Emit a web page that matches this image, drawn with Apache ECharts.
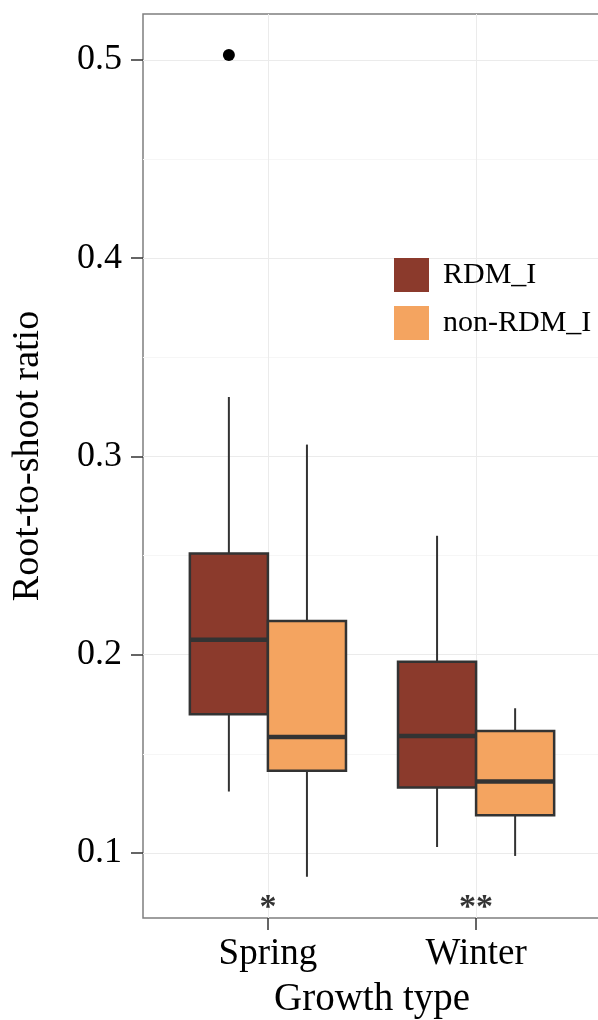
<!DOCTYPE html>
<html>
<head>
<meta charset="utf-8">
<title>Root-to-shoot ratio</title>
<script src="https://cdn.jsdelivr.net/npm/echarts@6/dist/echarts.min.js"></script>
<style>
  html, body { margin: 0; padding: 0; background: #fff; }
  #chart { width: 598px; height: 1020px; }
</style>
</head>
<body>
<div id="chart"></div>
<script>
const categories = ['Spring', 'Winter'];
const groupNames = ['RDM_I', 'non-RDM_I'];
// [lower whisker, Q1, median, Q3, upper whisker], one row per category
const rdmStats = [
  [0.131, 0.170, 0.2075, 0.251, 0.330],
  [0.103, 0.133, 0.159, 0.1965, 0.260]
];
const nonRdmStats = [
  [0.088, 0.1415, 0.1585, 0.217, 0.306],
  [0.0985, 0.119, 0.136, 0.1615, 0.173]
];
const rdmOutliers = [[0, 0.5025]];   // [category index, value]
const sigLabels = ['*', '**'];
const sigY = 0.072;
const yTicks = [0.1, 0.2, 0.3, 0.4, 0.5];
const yMinorTicks = [0.15, 0.25, 0.35, 0.45];
const colors = ['#8B3A2C', '#F4A460'];

const FONT = 'Liberation Serif';
const HALF = 0.1875;   // half of a dodged box, in category units

const chart = echarts.init(document.getElementById('chart'));

function boxItem(offset) {
  return function (params, api) {
    const x = api.value(0) + offset;
    const lo = api.value(1), q1 = api.value(2), med = api.value(3), q3 = api.value(4), hi = api.value(5);
    const tl = api.coord([x - HALF, q3]);
    const br = api.coord([x + HALF, q1]);
    const top = api.coord([x, hi]);
    const bot = api.coord([x, lo]);
    const mL = api.coord([x - HALF, med]);
    const mR = api.coord([x + HALF, med]);
    const whisker = { stroke: '#333', lineWidth: 2 };
    return {
      type: 'group',
      children: [
        { type: 'line', shape: { x1: top[0], y1: top[1], x2: top[0], y2: tl[1] }, style: whisker },
        { type: 'line', shape: { x1: bot[0], y1: br[1], x2: bot[0], y2: bot[1] }, style: whisker },
        { type: 'rect', shape: { x: tl[0], y: tl[1], width: br[0] - tl[0], height: br[1] - tl[1] },
          style: { fill: api.visual('color'), stroke: '#333', lineWidth: 2.5 } },
        { type: 'line', shape: { x1: mL[0], y1: mL[1], x2: mR[0], y2: mR[1] },
          style: { stroke: '#333', lineWidth: 4.5 } }
      ]
    };
  };
}

const option = {
  backgroundColor: '#fff',
  animation: false,
  grid: {
    left: 143, top: 14, width: 458, height: 904,
    outerBoundsMode: 'none', containLabel: false,
    show: true, borderColor: '#7F7F7F', borderWidth: 1.5, backgroundColor: '#fff'
  },
  legend: {
    orient: 'vertical', left: 389, top: 253,
    itemWidth: 35, itemHeight: 34, itemGap: 14,
    selectedMode: false,
    textStyle: { fontFamily: FONT, fontSize: 30, color: '#000', padding: [0, 0, 0, 9] },
    data: groupNames.map((n, i) => ({ name: n, icon: 'rect', itemStyle: { color: colors[i], borderWidth: 0 } }))
  },
  xAxis: {
    type: 'value', min: 0.4, max: 2.6,
    name: 'Growth type', nameLocation: 'middle', nameGap: 62,
    nameTextStyle: { fontFamily: FONT, fontSize: 39, color: '#000' },
    axisLine: { show: false },
    axisTick: { show: true, customValues: [1, 2], length: 12, lineStyle: { color: '#333', width: 1.5 } },
    axisLabel: {
      customValues: [1, 2], margin: 18,
      fontFamily: FONT, fontSize: 37, color: '#000',
      formatter: v => categories[Math.round(v) - 1]
    },
    splitLine: { show: true, lineStyle: { color: '#EBEBEB', width: 1 } }
  },
  yAxis: [
    {
      type: 'value', min: 0.0672, max: 0.5232,
      name: 'Root-to-shoot ratio', nameLocation: 'middle', nameGap: 96,
      nameTextStyle: { fontFamily: FONT, fontSize: 38, color: '#000', padding: [0, 0, 0, 20] },
      axisLine: { show: false },
      axisTick: { show: true, customValues: yTicks, length: 12, lineStyle: { color: '#333', width: 1.5 } },
      axisLabel: {
        customValues: yTicks, margin: 21,
        fontFamily: FONT, fontSize: 36, color: '#000',
        formatter: v => v.toFixed(1)
      },
      splitLine: { show: true, lineStyle: { color: '#EBEBEB', width: 1 } }
    },
    {
      // minor grid lines only
      type: 'value', min: 0.0672, max: 0.5232, position: 'left',
      axisLine: { show: false },
      axisTick: { show: false, customValues: yMinorTicks },
      axisLabel: { show: false, customValues: yMinorTicks },
      splitLine: { show: true, lineStyle: { color: '#F6F6F6', width: 1 } }
    }
  ],
  series: [
    {
      name: groupNames[0], type: 'custom', itemStyle: { color: colors[0] },
      renderItem: boxItem(-HALF),
      data: rdmStats.map((s, i) => [i + 1].concat(s))
    },
    {
      name: groupNames[1], type: 'custom', itemStyle: { color: colors[1] },
      renderItem: boxItem(HALF),
      data: nonRdmStats.map((s, i) => [i + 1].concat(s))
    },
    {
      name: 'outliers', type: 'scatter', symbolSize: 12,
      itemStyle: { color: '#000', opacity: 1 },
      data: rdmOutliers.map(o => [o[0] + 1 - HALF, o[1]])
    },
    {
      name: 'significance', type: 'scatter', symbolSize: 0, silent: true,
      label: {
        show: true, position: 'inside', fontFamily: FONT, fontSize: 34, fontWeight: 'bold', color: '#000',
        formatter: p => sigLabels[p.dataIndex]
      },
      data: sigLabels.map((s, i) => [i + 1, sigY])
    }
  ]
};

chart.setOption(option);
</script>
</body>
</html>
